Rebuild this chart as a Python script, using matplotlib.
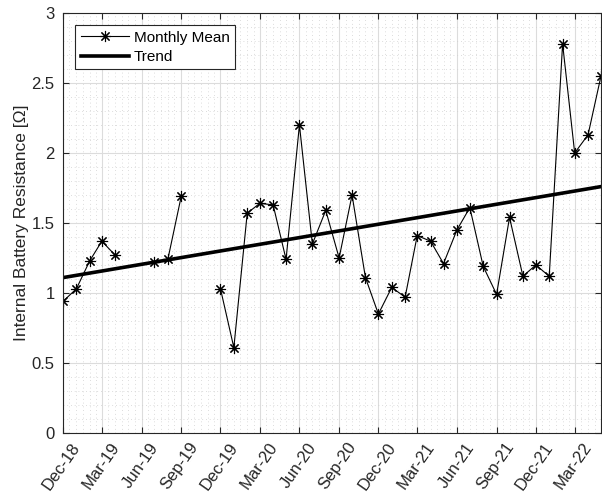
import numpy as np
import pandas as pd
import matplotlib
matplotlib.use('Agg')
import matplotlib.pyplot as plt
import matplotlib.dates as mdates
import matplotlib.transforms as mtransforms
from matplotlib.ticker import MultipleLocator

plt.rcParams['font.family'] = ['Liberation Sans', 'DejaVu Sans']

# Monthly means of internal resistance (NaN = no data that month)
months = pd.date_range('2018-12-01', '2022-05-01', freq='MS')
resistance = [
    0.94, 1.03, 1.23, 1.37, 1.27, np.nan, np.nan, 1.22, 1.24, 1.69,   # Dec-18 .. Sep-19
    np.nan, np.nan, 1.03, 0.61, 1.57, 1.64, 1.63, 1.24, 2.20, 1.35,   # Oct-19 .. Jul-20
    1.59, 1.25, 1.70, 1.11, 0.85, 1.04, 0.97, 1.41, 1.37, 1.21,       # Aug-20 .. May-21
    1.45, 1.61, 1.19, 0.99, 1.54, 1.12, 1.20, 1.12, 2.78, 2.00,       # Jun-21 .. Mar-22
    2.13, 2.55,                                                       # Apr-22 .. May-22
]

# linear trend, value at first and last month
trend_ends = [1.11, 1.76]
trend_dates = [months[0], months[-1]]

fig = plt.figure(figsize=(6.02, 4.97), dpi=100)
ax = fig.add_axes([63 / 602, 1 - 433 / 497, 538 / 602, 420 / 497])

ax.plot(months, resistance, color='black', linewidth=0.8,
        marker=(8, 2, 0), markersize=8, markeredgewidth=0.8,
        label='Monthly Mean')
ax.plot(trend_dates, trend_ends, color='black', linewidth=2.6, label='Trend')

ax.set_xlim(months[0], months[-1])
ax.set_ylim(0, 3)

ax.xaxis.set_major_locator(mdates.MonthLocator(bymonth=(3, 6, 9, 12)))
ax.xaxis.set_minor_locator(mdates.DayLocator(bymonthday=(1, 16)))
ax.xaxis.set_major_formatter(mdates.DateFormatter('%b-%y'))
ax.yaxis.set_major_locator(MultipleLocator(0.5))
ax.yaxis.set_minor_locator(MultipleLocator(0.1))
ax.yaxis.set_major_formatter(plt.FuncFormatter(lambda v, p: f'{v:g}'))

ax.grid(which='major', color='#dcdcdc', linewidth=0.8, linestyle='-')
ax.grid(which='minor', color='#d0d0d0', linewidth=0.6, linestyle=(0, (1, 3.5)))
ax.set_axisbelow(True)

for side in ['left', 'bottom', 'top', 'right']:
    ax.spines[side].set_color('#262626')
    ax.spines[side].set_linewidth(0.8)
ax.tick_params(which='major', direction='in', length=4, colors='#262626',
               labelsize=12, top=True, right=True)
ax.tick_params(axis='y', pad=6)
ax.tick_params(which='minor', length=0)

# rotated date labels, nudged right so their ends sit by the ticks
shift = mtransforms.ScaledTranslation(8 / 100, -2 / 100, fig.dpi_scale_trans)
for lbl in ax.get_xticklabels():
    lbl.set_rotation(55)
    lbl.set_ha('right')
    lbl.set_rotation_mode('anchor')
    lbl.set_transform(lbl.get_transform() + shift)

ax.set_ylabel('Internal Battery Resistance [Ω]', fontsize=12.5, color='#262626',
              labelpad=2)

leg = ax.legend(loc='upper left', fontsize=11, fancybox=False, framealpha=1,
                edgecolor='#262626', borderaxespad=0.8, handlelength=3.2,
                labelspacing=0.35, borderpad=0.35, handletextpad=0.3)
leg.get_frame().set_linewidth(0.8)

plt.savefig('out.png', dpi=100)
